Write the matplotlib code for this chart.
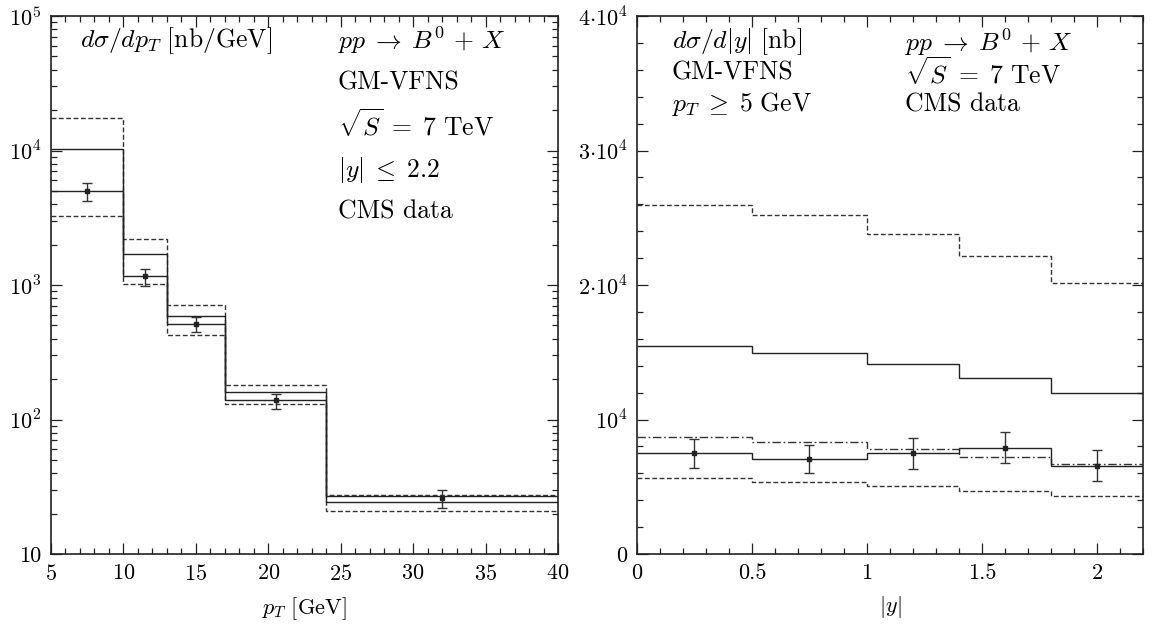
import numpy as np
import matplotlib
matplotlib.use("Agg")
import matplotlib.pyplot as plt
from matplotlib.ticker import FixedLocator, MultipleLocator, LogLocator, NullFormatter, FixedFormatter

plt.rcParams['font.family'] = 'serif'
plt.rcParams['font.serif'] = ['cmr10', 'DejaVu Serif']
plt.rcParams['mathtext.fontset'] = 'cm'
plt.rcParams['axes.unicode_minus'] = False
plt.rcParams['axes.formatter.use_mathtext'] = True

# left panel: d sigma / d pT, bins in pT
pt_edges = [5, 10, 13, 17, 24, 40]
pt_up_dash = [17300, 2200, 705, 182, 27.5]
pt_up_solid = [10200, 1710, 590, 160, 26.8]
pt_lo_solid = [5000, 1160, 514, 140, 24.2]
pt_lo_dash = [3250, 1010, 427, 130, 21.0]
pt_data_x = [7.5, 11.5, 15, 20.5, 32]
pt_data = [5000, 1160, 514, 140, 26.0]
pt_data_hi = [5760, 1320, 578, 155, 30.0]
pt_data_lo = [4230, 990, 449, 120, 21.9]

# right panel: d sigma / d|y|, bins in |y|
y_edges = [0, 0.5, 1.0, 1.4, 1.8, 2.2]
y_up_dash = [25970, 25200, 23770, 22130, 20170]
y_central = [15490, 14940, 14100, 13110, 11990]
y_dashdot = [8720, 8300, 7830, 7230, 6670]
y_solid = [7510, 7060, 7490, 7900, 6570]
y_lo_dash = [5670, 5330, 5060, 4660, 4310]
y_data_x = [0.25, 0.75, 1.2, 1.6, 2.0]
y_data = [7510, 7060, 7490, 7900, 6570]
y_data_hi = [8550, 8100, 8600, 9070, 7750]
y_data_lo = [6420, 6020, 6340, 6790, 5400]

dash = (0, (3.5, 1.8))
dashdot = (0, (6, 2, 1.2, 2))

fig = plt.figure(figsize=(11.56, 6.26), dpi=100)
ax1 = fig.add_axes([51/1156, 72/626, 507/1156, 538/626])
ax2 = fig.add_axes([637/1156, 72/626, 506/1156, 538/626])

def data_points(ax, x, y, lo, hi):
    y = np.array(y)
    err = [y - np.array(lo), np.array(hi) - y]
    ax.errorbar(x, y, yerr=err, fmt='s', ms=3.5, color='#222222',
                ecolor='#333333', elinewidth=1.0, capsize=3.5, capthick=1.0)

def hist(ax, vals, edges, **kw):
    ax.stairs(vals, edges, baseline=None, lw=1.0, **kw)

# ---- left
hist(ax1, pt_up_dash, pt_edges, color='#333333', ls=dash)
hist(ax1, pt_lo_dash, pt_edges, color='#333333', ls=dash)
hist(ax1, pt_up_solid, pt_edges, color='#222222')
hist(ax1, pt_lo_solid, pt_edges, color='#222222')
data_points(ax1, pt_data_x, pt_data, pt_data_lo, pt_data_hi)
ax1.set_yscale('log')
ax1.set_xlim(5, 40)
ax1.set_ylim(10, 1e5)
ax1.xaxis.set_major_locator(MultipleLocator(5))
ax1.xaxis.set_minor_locator(MultipleLocator(1))
ax1.yaxis.set_major_locator(FixedLocator([10, 100, 1e3, 1e4, 1e5]))
ax1.yaxis.set_major_formatter(FixedFormatter(['10', r'$10^2$', r'$10^3$', r'$10^4$', r'$10^5$']))
ax1.yaxis.set_minor_locator(LogLocator(base=10, subs=np.arange(2, 10)))
ax1.yaxis.set_minor_formatter(NullFormatter())
ax1.set_xlabel(r'$p_T\ [\mathrm{GeV}]$', fontsize=16, labelpad=8)

tk = 18.5
ax1.text(0.057, 0.955, r'$d\sigma/dp_T\ [\mathrm{nb/GeV}]$', transform=ax1.transAxes,
         fontsize=tk, va='center', ha='left')
for txt, yy in [(r'$pp \;\rightarrow\; B^0 \,+\, X$', 0.955), ('GM-VFNS', 0.877),
                (r'$\sqrt{S} \;=\; 7\ \mathrm{TeV}$', 0.797), (r'$|y| \;\leq\; 2.2$', 0.714),
                ('CMS data', 0.636)]:
    ax1.text(0.566, yy, txt, transform=ax1.transAxes, fontsize=tk, va='center', ha='left')

# ---- right
hist(ax2, y_up_dash, y_edges, color='#333333', ls=dash)
hist(ax2, y_lo_dash, y_edges, color='#333333', ls=dash)
hist(ax2, y_dashdot, y_edges, color='#333333', ls=dashdot)
hist(ax2, y_central, y_edges, color='#222222')
hist(ax2, y_solid, y_edges, color='#222222')
data_points(ax2, y_data_x, y_data, y_data_lo, y_data_hi)
ax2.set_xlim(0, 2.2)
ax2.set_ylim(0, 4e4)
ax2.xaxis.set_major_locator(FixedLocator([0, 0.5, 1, 1.5, 2]))
ax2.xaxis.set_major_formatter(FixedFormatter(['0', '0.5', '1', '1.5', '2']))
ax2.xaxis.set_minor_locator(MultipleLocator(0.1))
ax2.yaxis.set_major_locator(FixedLocator([0, 1e4, 2e4, 3e4, 4e4]))
ax2.yaxis.set_major_formatter(FixedFormatter(['0', r'$10^4$', r'$2{\cdot}10^4$',
                                              r'$3{\cdot}10^4$', r'$4{\cdot}10^4$']))
ax2.yaxis.set_minor_locator(MultipleLocator(2000))
ax2.set_xlabel(r'$|y|$', fontsize=16, labelpad=8)

ax2.text(0.069, 0.952, r'$d\sigma/d|y|\ [\mathrm{nb}]$', transform=ax2.transAxes,
         fontsize=tk, va='center', ha='left')
for txt, yy in [('GM-VFNS', 0.894), (r'$p_T \;\geq\; 5\ \mathrm{GeV}$', 0.836)]:
    ax2.text(0.069, yy, txt, transform=ax2.transAxes, fontsize=tk, va='center', ha='left')
for txt, yy in [(r'$pp \;\rightarrow\; B^0 \,+\, X$', 0.952),
                (r'$\sqrt{S} \;=\; 7\ \mathrm{TeV}$', 0.894), ('CMS data', 0.836)]:
    ax2.text(0.53, yy, txt, transform=ax2.transAxes, fontsize=tk, va='center', ha='left')

for ax in (ax1, ax2):
    ax.tick_params(which='both', direction='in', top=True, right=True, labelsize=16,
                   width=0.9, color='#222222')
    ax.tick_params(which='major', length=8, pad=7)
    ax.tick_params(which='minor', length=4)
    for s in ax.spines.values():
        s.set_linewidth(1.2)
        s.set_color('#222222')

fig.savefig('out.png', dpi=100)
